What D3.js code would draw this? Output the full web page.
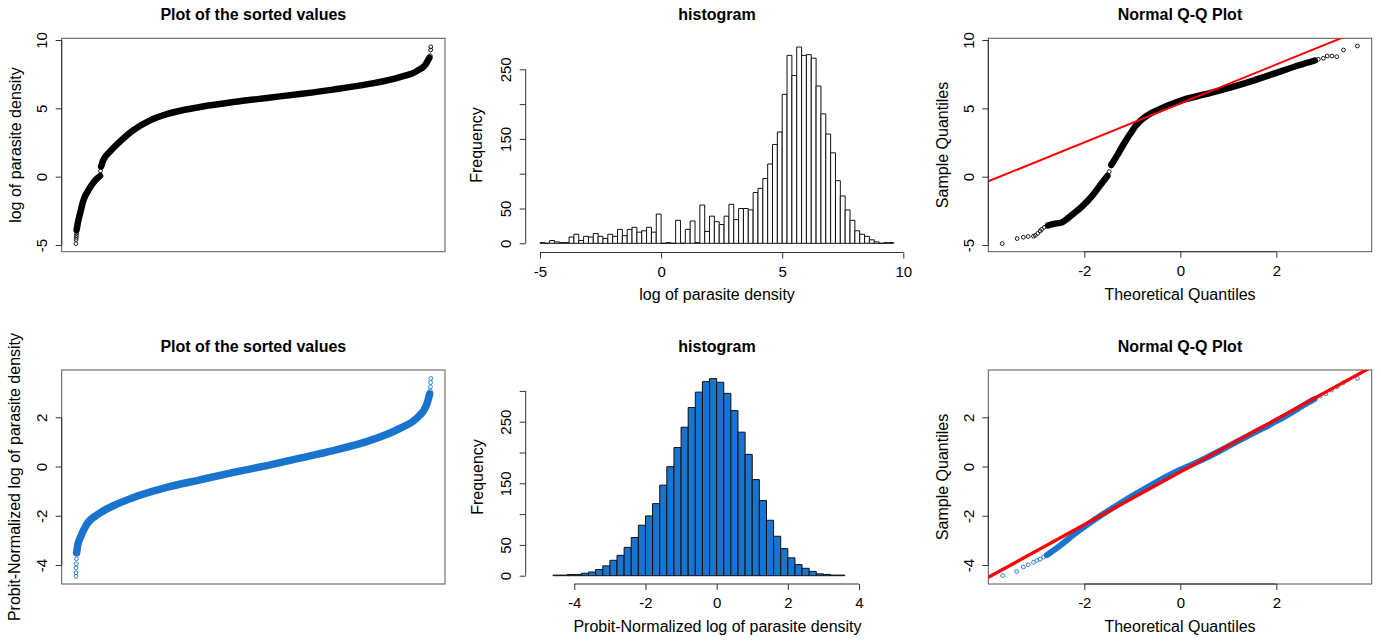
<!DOCTYPE html>
<html>
<head>
<meta charset="utf-8">
<script src="https://cdnjs.cloudflare.com/ajax/libs/d3/7.8.5/d3.min.js"></script>
<style>
  body { margin: 0; background: #fff; }
  svg { font-family: "Liberation Sans", Arial, Helvetica, sans-serif; }
  .title { font-weight: bold; font-size: 16px; fill: #000; }
  .axis-title { font-size: 16px; fill: #000; }
</style>
</head>
<body>
<svg id="chart" width="1381" height="643"></svg>
<script>
// ---- data ----

// top histogram: log of parasite density, bins of 0.2 from -5
const topBinStart = -5, topBinWidth = 0.2;
const topCounts = [
  1, 0, 4, 2, 1, 1, 9, 13, 4, 10, 9, 14, 10, 7, 13, 10, 20, 11, 20, 23, 16, 18, 23, 16, 42,
  0, 1, 0, 33, 0, 20, 32, 1, 55, 17, 39, 31, 27, 39, 56, 34, 50, 50, 48, 73, 79, 93, 114, 142, 160,
  214, 270, 241, 282, 270, 271, 266, 226, 186, 157, 130, 90, 68, 48, 33, 18, 13, 10, 5, 2, 0, 1, 1
];

// bottom histogram: probit-normalized values, bins of 0.2 from -4.6
const botBinStart = -4.6, botBinWidth = 0.2;
const botCounts = [
  1, 1, 2, 2, 4, 6, 10, 16, 25, 33, 46, 62, 82, 97, 117, 147, 177, 208, 241, 273, 298,
  315, 320, 314, 296, 268, 233, 197, 156, 122, 90, 64, 44, 29, 18, 12, 7, 3, 2, 1, 1
];

// sorted values, [fraction of rank, value]; dense parts drawn as a band
const sortedTopLower = [[0.002, -3.9], [0.006, -3.3], [0.012, -2.68], [0.021, -1.75], [0.035, -1.0],
  [0.049, -0.45], [0.06, -0.12], [0.068, 0.05]];
const sortedTopUpper = [[0.071, 0.75], [0.077, 1.2], [0.096, 1.83], [0.124, 2.56], [0.162, 3.4],
  [0.209, 4.12], [0.256, 4.58], [0.303, 4.88], [0.35, 5.1], [0.444, 5.46], [0.538, 5.76],
  [0.631, 6.05], [0.725, 6.37], [0.819, 6.75], [0.913, 7.28], [0.96, 7.72], [0.985, 8.2], [0.996, 8.7]];
const sortedTopSingles = [[0, -4.9], [0.0005, -4.6], [0.001, -4.45], [0.0015, -4.3], [0.002, -4.12],
  [0.0695, 0.42], [0.9985, 8.85], [0.9995, 9.27], [1, 9.5]];

const sortedBot = [[0.002, -3.5], [0.005, -3.2], [0.012, -2.9], [0.03, -2.36], [0.068, -1.89],
  [0.115, -1.53], [0.162, -1.26], [0.256, -0.85], [0.35, -0.54], [0.444, -0.24], [0.538, 0.04],
  [0.631, 0.34], [0.725, 0.65], [0.819, 1.01], [0.913, 1.55], [0.96, 1.96], [0.988, 2.5], [0.997, 2.95]];
const sortedBotSingles = [[0, -4.46], [0.0003, -4.32], [0.0006, -4.12], [0.001, -3.95], [0.0015, -3.75],
  [0.9985, 3.08], [0.999, 3.24], [0.9995, 3.41], [1, 3.58]];

// normal Q-Q, [theoretical quantile, sample quantile]
const qqTopLower = [[-2.75, -3.56], [-2.68, -3.49], [-2.58, -3.42], [-2.47, -3.35], [-2.4, -3.2],
  [-2.26, -2.8], [-2.05, -2.19], [-1.85, -1.46], [-1.64, -0.5], [-1.52, 0.05]];
const qqTopUpper = [[-1.44, 0.85], [-1.29, 1.71], [-1.19, 2.32], [-1.05, 3.1], [-0.91, 3.8],
  [-0.7, 4.45], [-0.42, 4.95], [0, 5.55], [0.48, 6.0], [1.0, 6.48], [1.52, 7.03], [2.0, 7.6],
  [2.49, 8.17], [2.8, 8.5]];
const qqTopSingles = [[-3.71, -4.9], [-3.4, -4.53], [-3.27, -4.43], [-3.17, -4.38], [-3.06, -4.36],
  [-3.02, -4.3], [-2.97, -4.15], [-2.92, -3.98], [-2.89, -3.86], [-2.83, -3.7], [-2.78, -3.61],
  [-1.48, 0.37], [2.875, 8.59], [2.98, 8.66], [3.06, 8.83], [3.16, 8.83], [3.26, 8.78], [3.4, 9.27], [3.69, 9.56]];
const qqLineTop = [5.36, 1.425]; // intercept, slope

const qqBot = [[-2.78, -3.6], [-2.5, -3.2], [-2.2, -2.74], [-1.95, -2.38], [-1.6, -1.92], [-1.26, -1.5],
  [-0.9, -1.08], [-0.56, -0.7], [-0.25, -0.37], [0, -0.13], [0.4, 0.22], [0.83, 0.64], [1.2, 1.03],
  [1.52, 1.36], [2.0, 1.84], [2.3, 2.17], [2.56, 2.48], [2.8, 2.75]];
const qqBotSingles = [[-3.7, -4.43], [-3.41, -4.26], [-3.27, -4.08], [-3.17, -3.99], [-3.06, -3.89],
  [-2.99, -3.82], [-2.92, -3.76], [-2.85, -3.68], [2.91, 2.86], [3.03, 2.95], [3.15, 3.11],
  [3.27, 3.24], [3.4, 3.41], [3.69, 3.58]];
const qqLineBot = [-0.22, 1.07];

// tick values
const topYTicks = [-5, 0, 5, 10];
const botYTicks = [-4, -2, 0, 2];
const qqXTicks = [-2, 0, 2];
const histTopXTicks = [-5, 0, 5, 10];
const histBotXTicks = [-4, -2, 0, 2, 4];
const histTopYTicks = [0, 50, 100, 150, 200, 250];
const histBotYTicks = [0, 50, 100, 150, 200, 250, 300];
const histYLabels = [0, 50, 150, 250];

const BLUE = "#1874CD";

const svg = d3.select("#chart");

// ---- scales ----
const xRank = d3.scaleLinear().domain([0, 1]).range([75.9, 430.8]);
const xQQ = d3.scaleLinear().domain([-2, 2]).range([1084.3, 1276.3]);
const yTop = d3.scaleLinear().domain([-5, 10]).range([245, 40]);
const yBot = d3.scaleLinear().domain([-4, 2]).range([565, 417.3]);
const xHistTop = d3.scaleLinear().domain([-5, 10]).range([540, 903.3]);
const yHistTop = d3.scaleLinear().domain([0, 250]).range([243.3, 69.3]);
const xHistBot = d3.scaleLinear().domain([-4, 4]).range([574.3, 859]);
const yHistBot = d3.scaleLinear().domain([0, 250]).range([575.7, 421.7]);

const boxes = {
  p1: { x0: 61.7, x1: 445, y0: 38.3, y1: 251.7 },
  p3: { x0: 988.3, x1: 1371.7, y0: 38.3, y1: 251.7 },
  p4: { x0: 61.7, x1: 445, y0: 370, y1: 584 },
  p6: { x0: 988.3, x1: 1371.7, y0: 370, y1: 584 }
};

// ---- helpers ----
function title(text, x, y) {
  svg.append("text").attr("class", "title").attr("x", x).attr("y", y)
    .attr("text-anchor", "middle").text(text);
}

function yTitle(text, x, y) {
  svg.append("text").attr("class", "axis-title")
    .attr("transform", "translate(" + x + "," + y + ") rotate(-90)")
    .attr("text-anchor", "middle").text(text);
}

function xTitle(text, x, y) {
  svg.append("text").attr("class", "axis-title").attr("x", x).attr("y", y)
    .attr("text-anchor", "middle").text(text);
}

function box(b) {
  svg.append("rect").attr("x", b.x0).attr("y", b.y0)
    .attr("width", b.x1 - b.x0).attr("height", b.y1 - b.y0)
    .attr("fill", "none").attr("stroke", "#555").attr("stroke-width", 1);
}

// R style left axis: line only between first and last tick, labels parallel to axis
function leftAxis(scale, ticks, labeled, x) {
  let g = svg.append("g").attr("transform", "translate(" + x + ",0)")
    .call(d3.axisLeft(scale).tickValues(ticks).tickSize(6).tickSizeOuter(0)
      .tickFormat(d => labeled.includes(d) ? String(d) : ""));
  g.attr("font-family", null).attr("font-size", null);
  g.select(".domain").remove();
  g.append("line").attr("y1", scale(ticks[0])).attr("y2", scale(ticks[ticks.length - 1]))
    .attr("stroke", "#333");
  g.selectAll(".tick line").attr("stroke", "#333");
  g.selectAll(".tick text")
    .attr("x", null).attr("dy", null)
    .attr("text-anchor", "middle")
    .attr("transform", "translate(-14.5,0) rotate(-90)")
    .attr("font-size", 15).attr("fill", "#000");
}

function bottomAxis(scale, ticks, y) {
  let g = svg.append("g").attr("transform", "translate(0," + y + ")")
    .call(d3.axisBottom(scale).tickValues(ticks).tickSize(6).tickSizeOuter(0)
      .tickFormat(d => String(d)));
  g.attr("font-family", null).attr("font-size", null);
  g.select(".domain").remove();
  g.append("line").attr("x1", scale(ticks[0])).attr("x2", scale(ticks[ticks.length - 1]))
    .attr("stroke", "#333");
  g.selectAll(".tick line").attr("stroke", "#333");
  g.selectAll(".tick text")
    .attr("y", 24).attr("dy", null)
    .attr("font-size", 15).attr("fill", "#000");
}

function band(data, xs, ys, color, w) {
  svg.append("path").datum(data)
    .attr("d", d3.line().x(d => xs(d[0])).y(d => ys(d[1])).curve(d3.curveMonotoneX))
    .attr("fill", "none").attr("stroke", color).attr("stroke-width", w)
    .attr("stroke-linecap", "round").attr("stroke-linejoin", "round");
}

function points(data, xs, ys, color) {
  svg.append("g").selectAll("circle").data(data).enter().append("circle")
    .attr("cx", d => xs(d[0])).attr("cy", d => ys(d[1])).attr("r", 1.9)
    .attr("fill", "none").attr("stroke", color).attr("stroke-width", 0.9);
}

function qqLine(coef, xs, ys, b, width, id) {
  svg.append("clipPath").attr("id", id).append("rect")
    .attr("x", b.x0).attr("y", b.y0).attr("width", b.x1 - b.x0).attr("height", b.y1 - b.y0);
  let xa = xs.invert(b.x0), xb = xs.invert(b.x1);
  svg.append("line").attr("clip-path", "url(#" + id + ")")
    .attr("x1", xs(xa)).attr("y1", ys(coef[0] + coef[1] * xa))
    .attr("x2", xs(xb)).attr("y2", ys(coef[0] + coef[1] * xb))
    .attr("stroke", "#ff0000").attr("stroke-width", width);
}

function histogram(counts, start, width, xs, ys, fill) {
  let bins = counts.map((c, i) => ({ x0: start + i * width, x1: start + (i + 1) * width, n: c }));
  svg.append("g").selectAll("path").data(bins).enter().append("path")
    .attr("d", d => "M" + xs(d.x0) + "," + ys(0) + "V" + ys(d.n) + "H" + xs(d.x1) + "V" + ys(0) + "Z")
    .attr("fill", fill).attr("stroke", "#111").attr("stroke-width", 1);
}

// ---- panel 1: sorted values ----
title("Plot of the sorted values", 253.3, 20);
box(boxes.p1);
band(sortedTopLower, xRank, yTop, "#000", 6.5);
band(sortedTopUpper, xRank, yTop, "#000", 6.5);
points(sortedTopSingles, xRank, yTop, "#000");
leftAxis(yTop, topYTicks, topYTicks, boxes.p1.x0);
yTitle("log of parasite density", 21, 145);

// ---- panel 2: histogram ----
title("histogram", 717, 20);
histogram(topCounts, topBinStart, topBinWidth, xHistTop, yHistTop, "#fff");
leftAxis(yHistTop, histTopYTicks, histYLabels, 525.7);
bottomAxis(xHistTop, histTopXTicks, 252.5);
yTitle("Frequency", 482, 145);
xTitle("log of parasite density", 717, 300);

// ---- panel 3: Q-Q ----
title("Normal Q-Q Plot", 1180, 20);
box(boxes.p3);
band(qqTopLower, xQQ, yTop, "#000", 6.5);
band(qqTopUpper, xQQ, yTop, "#000", 6.5);
points(qqTopSingles, xQQ, yTop, "#000");
qqLine(qqLineTop, xQQ, yTop, boxes.p3, 2, "clipTop");
leftAxis(yTop, topYTicks, topYTicks, boxes.p3.x0);
bottomAxis(xQQ, qqXTicks, boxes.p3.y1);
yTitle("Sample Quantiles", 948, 145);
xTitle("Theoretical Quantiles", 1180, 300);

// ---- panel 4: sorted normalized values ----
title("Plot of the sorted values", 253.3, 352);
box(boxes.p4);
band(sortedBot, xRank, yBot, BLUE, 7.5);
points(sortedBotSingles, xRank, yBot, BLUE);
leftAxis(yBot, botYTicks, botYTicks, boxes.p4.x0);
yTitle("Probit-Normalized log of parasite density", 20, 477);

// ---- panel 5: histogram normalized ----
title("histogram", 717, 352);
histogram(botCounts, botBinStart, botBinWidth, xHistBot, yHistBot, BLUE);
leftAxis(yHistBot, histBotYTicks, histYLabels, 525.7);
bottomAxis(xHistBot, histBotXTicks, 584);
yTitle("Frequency", 483, 477);
xTitle("Probit-Normalized log of parasite density", 717.5, 631.5);

// ---- panel 6: Q-Q normalized ----
title("Normal Q-Q Plot", 1180, 352);
box(boxes.p6);
band(qqBot, xQQ, yBot, BLUE, 6);
points(qqBotSingles, xQQ, yBot, BLUE);
qqLine(qqLineBot, xQQ, yBot, boxes.p6, 3.3, "clipBot");
leftAxis(yBot, botYTicks, botYTicks, boxes.p6.x0);
bottomAxis(xQQ, qqXTicks, boxes.p6.y1);
yTitle("Sample Quantiles", 948, 477);
xTitle("Theoretical Quantiles", 1180, 631.5);
</script>
</body>
</html>
